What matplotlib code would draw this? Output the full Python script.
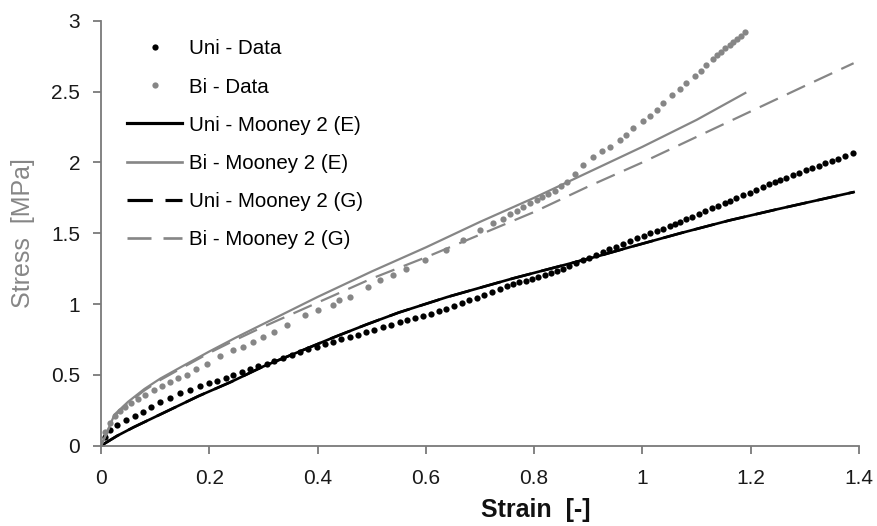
import matplotlib
matplotlib.use("Agg")
import matplotlib.pyplot as plt
from matplotlib.ticker import FuncFormatter

plt.rcParams["font.family"] = ["Liberation Sans", "DejaVu Sans"]

GREY = "#868686"

# uniaxial test data
uni_strain = [
    0.0, 0.008, 0.017, 0.03, 0.047, 0.062, 0.078, 0.093, 0.109, 0.127,
    0.146, 0.164, 0.183, 0.2, 0.215, 0.23, 0.244, 0.26, 0.275, 0.29,
    0.306, 0.32, 0.336, 0.352, 0.367, 0.382, 0.398, 0.413, 0.429, 0.444,
    0.46, 0.475, 0.49, 0.505, 0.52, 0.536, 0.552, 0.566, 0.58, 0.595,
    0.61, 0.624, 0.638, 0.652, 0.666, 0.68, 0.694, 0.708, 0.722, 0.736,
    0.75, 0.761, 0.772, 0.784, 0.796, 0.808, 0.82, 0.832, 0.843, 0.854,
    0.865, 0.877, 0.89, 0.902, 0.915, 0.927, 0.939, 0.952, 0.964, 0.977,
    0.99, 1.002, 1.014, 1.026, 1.038, 1.05, 1.06, 1.069, 1.08, 1.092,
    1.104, 1.116, 1.128, 1.14, 1.152, 1.161, 1.172, 1.185, 1.198, 1.21,
    1.222, 1.234, 1.245, 1.254, 1.266, 1.278, 1.29, 1.302, 1.314, 1.326,
    1.338, 1.35, 1.362, 1.374, 1.389,
]
uni_stress = [
    0.0, 0.06, 0.11, 0.145, 0.18, 0.21, 0.24, 0.275, 0.31, 0.34,
    0.37, 0.395, 0.42, 0.44, 0.46, 0.48, 0.5, 0.52, 0.54, 0.56,
    0.58, 0.6, 0.62, 0.64, 0.66, 0.68, 0.7, 0.717, 0.735, 0.75,
    0.767, 0.783, 0.8, 0.817, 0.835, 0.852, 0.87, 0.885, 0.9, 0.915,
    0.93, 0.948, 0.965, 0.985, 1.005, 1.025, 1.045, 1.065, 1.085, 1.105,
    1.125, 1.14, 1.152, 1.165, 1.178, 1.19, 1.205, 1.22, 1.235, 1.25,
    1.27, 1.29, 1.31, 1.328, 1.346, 1.365, 1.385, 1.405, 1.425, 1.445,
    1.465, 1.482, 1.5, 1.515, 1.53, 1.548, 1.564, 1.58, 1.598, 1.617,
    1.636, 1.655, 1.675, 1.695, 1.715, 1.73, 1.748, 1.767, 1.786, 1.805,
    1.825, 1.845, 1.862, 1.875, 1.892, 1.91, 1.926, 1.943, 1.96, 1.976,
    1.993, 2.01, 2.027, 2.045, 2.063,
]

# biaxial test data
bi_strain = [
    0.0, 0.008, 0.016, 0.025, 0.035, 0.045, 0.056, 0.068, 0.082, 0.097,
    0.113, 0.127, 0.143, 0.158, 0.176, 0.195, 0.22, 0.244, 0.262, 0.28,
    0.3, 0.32, 0.343, 0.377, 0.4, 0.429, 0.44, 0.46, 0.494, 0.515,
    0.54, 0.564, 0.598, 0.638, 0.669, 0.7, 0.724, 0.742, 0.756, 0.768,
    0.78, 0.792, 0.805, 0.815, 0.826, 0.838, 0.85, 0.86, 0.875, 0.89,
    0.909, 0.925, 0.94, 0.958, 0.97, 0.983, 1.001, 1.014, 1.026, 1.038,
    1.054, 1.069, 1.081, 1.097, 1.108, 1.118, 1.13, 1.137, 1.145, 1.152,
    1.161, 1.168, 1.175, 1.182, 1.189,
]
bi_stress = [
    0.0, 0.1, 0.16, 0.21, 0.245, 0.27, 0.3, 0.33, 0.36, 0.39,
    0.42, 0.45, 0.475, 0.5, 0.54, 0.58, 0.63, 0.675, 0.7, 0.735,
    0.77, 0.8, 0.855, 0.92, 0.96, 0.99, 1.03, 1.05, 1.12, 1.17,
    1.205, 1.25, 1.31, 1.38, 1.45, 1.52, 1.57, 1.6, 1.635, 1.66,
    1.685, 1.71, 1.735, 1.755, 1.775, 1.8, 1.83, 1.86, 1.92, 1.98,
    2.04, 2.08, 2.11, 2.157, 2.19, 2.24, 2.29, 2.33, 2.37, 2.42,
    2.475, 2.52, 2.557, 2.61, 2.645, 2.687, 2.73, 2.757, 2.78, 2.805,
    2.83, 2.85, 2.87, 2.895, 2.92,
]

# Mooney-Rivlin 2-parameter fits
uni_e_strain = [0.0, 0.03, 0.06, 0.12, 0.18, 0.24, 0.3, 0.37, 0.43, 0.49,
                0.55, 0.64, 0.76, 0.85, 0.92, 0.98, 1.07, 1.16, 1.25, 1.39]
uni_e_stress = [0.0, 0.07, 0.13, 0.24, 0.35, 0.45, 0.56, 0.67, 0.765, 0.855,
                0.94, 1.05, 1.18, 1.27, 1.34, 1.405, 1.5, 1.59, 1.67, 1.79]
uni_g_strain = [0.0, 0.03, 0.06, 0.12, 0.18, 0.24, 0.3, 0.37, 0.43, 0.49,
                0.55, 0.64, 0.76, 0.85, 0.92, 0.98, 1.07, 1.16, 1.25, 1.39]
uni_g_stress = [0.0, 0.07, 0.13, 0.24, 0.35, 0.45, 0.56, 0.67, 0.765, 0.855,
                0.94, 1.05, 1.18, 1.27, 1.34, 1.405, 1.5, 1.59, 1.67, 1.79]

bi_e_strain = [0.0, 0.025, 0.05, 0.08, 0.11, 0.15, 0.2, 0.25, 0.3, 0.4,
               0.5, 0.6, 0.7, 0.8, 0.9, 1.0, 1.1, 1.19]
bi_e_stress = [0.0, 0.22, 0.31, 0.4, 0.475, 0.56, 0.665, 0.765, 0.86, 1.05,
               1.23, 1.4, 1.58, 1.75, 1.93, 2.11, 2.3, 2.49]
bi_g_strain = [0.0, 0.025, 0.05, 0.08, 0.11, 0.15, 0.2, 0.25, 0.3, 0.4,
               0.5, 0.6, 0.7, 0.8, 0.9, 1.0, 1.1, 1.2, 1.3, 1.39]
bi_g_stress = [0.0, 0.21, 0.3, 0.39, 0.465, 0.55, 0.655, 0.75, 0.84, 1.01,
               1.18, 1.33, 1.49, 1.65, 1.83, 2.0, 2.18, 2.36, 2.54, 2.7]

x_ticks = [0, 0.2, 0.4, 0.6, 0.8, 1.0, 1.2, 1.4]
y_ticks = [0, 0.5, 1.0, 1.5, 2.0, 2.5, 3.0]


def main():
    fig = plt.figure(figsize=(8.77, 5.26), dpi=100)
    ax = fig.add_axes([0.1152, 0.1527, 0.8643, 0.8079])

    ax.plot(uni_strain, uni_stress, "o", color="black", markersize=4.5,
            markeredgewidth=0, label="Uni - Data")
    ax.plot(bi_strain, bi_stress, "o", color=GREY, markersize=4.5,
            markeredgewidth=0, label="Bi - Data")
    ax.plot(uni_e_strain, uni_e_stress, "-", color="black", linewidth=1.9,
            label="Uni - Mooney 2 (E)")
    ax.plot(bi_e_strain, bi_e_stress, "-", color=GREY, linewidth=1.6,
            label="Bi - Mooney 2 (E)")
    ax.plot(uni_g_strain, uni_g_stress, color="black", linewidth=1.9,
            dashes=(8, 4), label="Uni - Mooney 2 (G)", zorder=1.5)
    ax.plot(bi_g_strain, bi_g_stress, color=GREY, linewidth=1.6,
            dashes=(9, 4.5), label="Bi - Mooney 2 (G)")

    ax.set_xlim(0, 1.4)
    ax.set_ylim(0, 3)
    ax.set_xticks(x_ticks)
    ax.set_yticks(y_ticks)
    fmt = FuncFormatter(lambda v, pos: f"{v:g}")
    ax.xaxis.set_major_formatter(fmt)
    ax.yaxis.set_major_formatter(fmt)

    for side in ("top", "right"):
        ax.spines[side].set_visible(False)
    for side in ("left", "bottom"):
        ax.spines[side].set_color("#7a7a7a")
        ax.spines[side].set_linewidth(1.3)
    ax.tick_params(axis="both", colors="#7a7a7a", labelcolor="#1a1a1a",
                   labelsize=15, length=6, width=1.3, direction="out")
    ax.tick_params(axis="x", pad=11)
    ax.tick_params(axis="y", pad=9)

    ax.set_xlabel("Strain  [-]", fontsize=18, fontweight="bold", color="#111111")
    ax.xaxis.set_label_coords(0.573, -0.122)
    ax.set_ylabel("Stress  [MPa]", fontsize=18, color=GREY)
    ax.yaxis.set_label_coords(-0.087, 0.5)

    leg = ax.legend(loc="upper left", bbox_to_anchor=(0.034, 0.956),
                    frameon=False, fontsize=14.8, handlelength=2.7,
                    handletextpad=0.33, labelspacing=0.93, borderpad=0,
                    borderaxespad=0, markerscale=1.0)
    for handle in leg.legend_handles:
        handle.set_linewidth(handle.get_linewidth() * 1.2)

    fig.savefig("out.png", dpi=100)
    plt.close(fig)


if __name__ == "__main__":
    main()
